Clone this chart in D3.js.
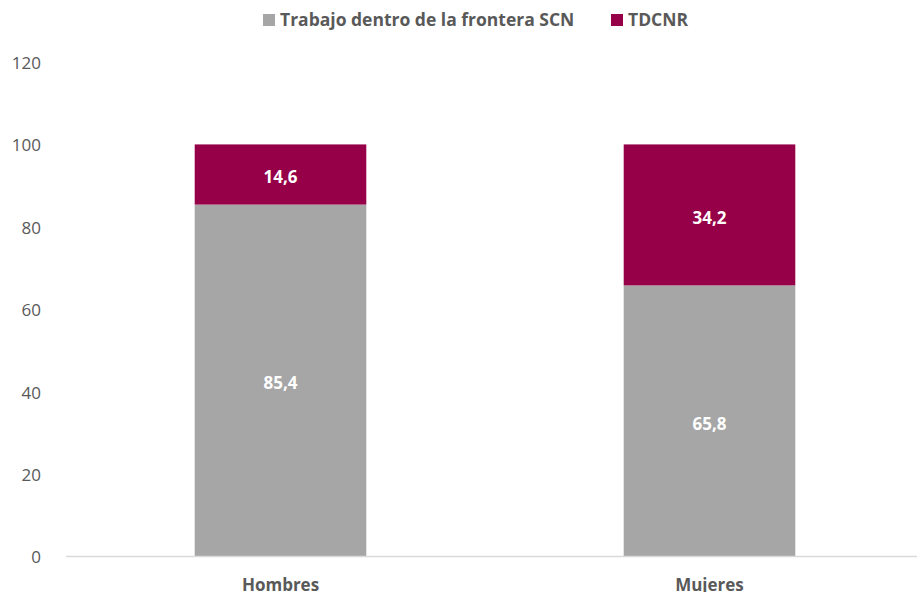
<!DOCTYPE html>
<html>
<head>
<meta charset="utf-8">
<script src="https://cdn.jsdelivr.net/npm/d3@7"></script>
<style>
  body { margin: 0; background: #fff; }
  text { font-family: "Open Sans", "Noto Sans", sans-serif; }
</style>
</head>
<body>
<svg id="chart" width="917" height="592"></svg>
<script>
var categories = ['Hombres', 'Mujeres'];
var seriesNames = ['Trabajo dentro de la frontera SCN', 'TDCNR'];
var scnValues = [85.4, 65.8];
var tdcnrValues = [14.6, 34.2];
var yTicks = [0, 20, 40, 60, 80, 100, 120];
var colors = ['#a6a6a6', '#960048'];

(function () {
  var svg = d3.select('#chart');
  var m = { left: 66, right: 924, top: 62, bottom: 556.5 };

  var x = d3.scaleBand().domain(categories).range([m.left, m.right]).paddingInner(0.6).paddingOuter(0.3);
  var y = d3.scaleLinear().domain([0, 120]).range([m.bottom, m.top]);

  var rows = categories.map(function (c, i) {
    return { cat: c, scn: scnValues[i], tdcnr: tdcnrValues[i] };
  });
  var stack = d3.stack().keys(['scn', 'tdcnr'])(rows);

  // y axis labels only
  var yAxis = svg.append('g')
    .attr('transform', 'translate(' + (m.left - 19) + ',1)')
    .call(d3.axisLeft(y).tickValues(yTicks).tickSize(0).tickPadding(6));
  yAxis.select('.domain').remove();
  yAxis.selectAll('text').attr('font-size', 17).attr('fill', '#595959');

  var layers = svg.selectAll('g.layer')
    .data(stack)
    .enter().append('g')
    .attr('class', 'layer')
    .attr('fill', function (d, i) { return colors[i]; });

  layers.selectAll('rect')
    .data(function (d) { return d; })
    .enter().append('rect')
    .attr('x', function (d) { return x(d.data.cat); })
    .attr('width', x.bandwidth())
    .attr('y', function (d) { return y(d[1]); })
    .attr('height', function (d) { return y(d[0]) - y(d[1]); });

  layers.selectAll('text')
    .data(function (d) { return d; })
    .enter().append('text')
    .attr('x', function (d) { return x(d.data.cat) + x.bandwidth() / 2; })
    .attr('y', function (d) { return (y(d[0]) + y(d[1])) / 2 + 3; })
    .attr('dy', '0.35em')
    .attr('text-anchor', 'middle')
    .attr('fill', '#fff')
    .attr('font-size', 17)
    .attr('font-weight', 'bold')
    .text(function (d) { return d3.format('.1f')(d[1] - d[0]).replace('.', ','); });

  // baseline
  svg.append('line')
    .attr('x1', m.left).attr('x2', m.right)
    .attr('y1', y(0)).attr('y2', y(0))
    .attr('stroke', '#d9d9d9').attr('stroke-width', 1.3);

  // category labels
  var xAxis = svg.append('g')
    .attr('transform', 'translate(0,' + y(0) + ')')
    .call(d3.axisBottom(x).tickSize(0).tickPadding(22));
  xAxis.select('.domain').remove();
  xAxis.selectAll('text').attr('font-size', 17).attr('font-weight', 'bold').attr('fill', '#595959');

  // legend
  var legendX = [263, 611];
  var legend = svg.selectAll('g.legend')
    .data(seriesNames)
    .enter().append('g')
    .attr('class', 'legend')
    .attr('transform', function (d, i) { return 'translate(' + legendX[i] + ',14)'; });
  legend.append('rect')
    .attr('width', 12).attr('height', 12)
    .attr('fill', function (d, i) { return colors[i]; });
  legend.append('text')
    .attr('x', 17).attr('y', 6).attr('dy', '0.35em')
    .attr('font-size', 17.5).attr('font-weight', 'bold').attr('fill', '#595959')
    .text(function (d) { return d; });
})();
</script>
</body>
</html>
